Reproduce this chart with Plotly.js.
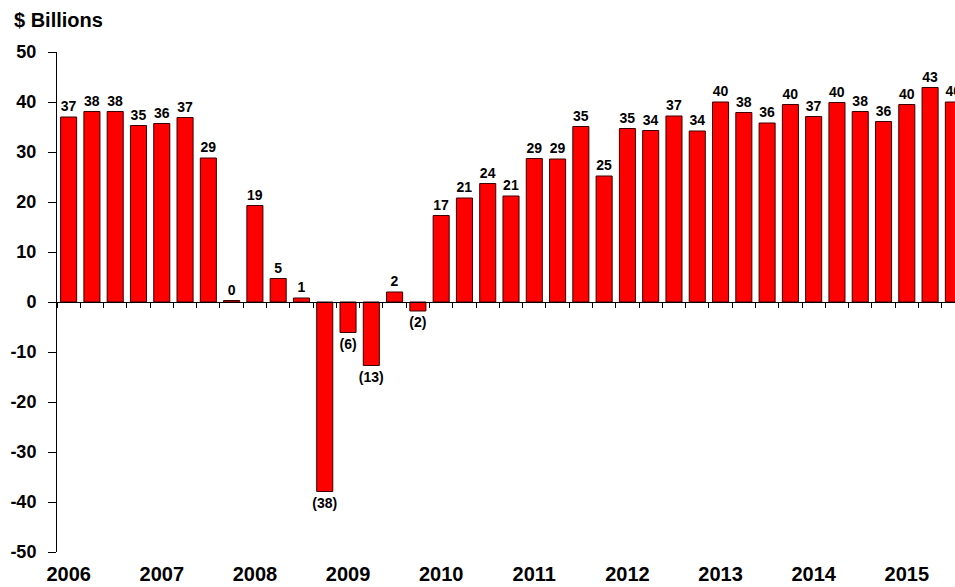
<!DOCTYPE html>
<html>
<head>
<meta charset="utf-8">
<script src="https://cdn.plot.ly/plotly-3.0.1.min.js"></script>
<style>html,body{margin:0;padding:0;background:#fff;}#chart{width:955px;height:587px;}</style>
</head>
<body>
<div id="chart"></div>
<script>
const quarters = [
  '2006Q1','2006Q2','2006Q3','2006Q4',
  '2007Q1','2007Q2','2007Q3','2007Q4',
  '2008Q1','2008Q2','2008Q3','2008Q4',
  '2009Q1','2009Q2','2009Q3','2009Q4',
  '2010Q1','2010Q2','2010Q3','2010Q4',
  '2011Q1','2011Q2','2011Q3','2011Q4',
  '2012Q1','2012Q2','2012Q3','2012Q4',
  '2013Q1','2013Q2','2013Q3','2013Q4',
  '2014Q1','2014Q2','2014Q3','2014Q4',
  '2015Q1','2015Q2','2015Q3'
];
const values = [
  37.0, 38.1, 38.1, 35.3,
  35.7, 36.9, 28.8, 0.3,
  19.3, 4.7, 0.8, -37.9,
  -6.1, -12.7, 2.0, -1.8,
  17.3, 20.8, 23.7, 21.2,
  28.7, 28.6, 35.1, 25.2,
  34.7, 34.3, 37.2, 34.2,
  40.0, 37.9, 35.8, 39.5,
  37.1, 39.9, 38.1, 36.1,
  39.5, 42.9, 40.0
];
const yearTickIdx = [0, 4, 8, 12, 16, 20, 24, 28, 32, 36];
const yearLabels = ['2006','2007','2008','2009','2010','2011','2012','2013','2014','2015'];
const yTickVals = [50, 40, 30, 20, 10, 0, -10, -20, -30, -40, -50];
const yTickText = ['50','40','30','20','10','0','-10','-20','-30','-40','-50'];

const xPos = quarters.map((q, i) => i);
const labels = values.map(v => v < 0 ? '(' + Math.abs(Math.round(v)) + ')' : String(Math.round(v)));

const font = 'Liberation Sans, Arial, sans-serif';

const traces = [
  {
    type: 'bar',
    x: xPos,
    y: values,
    text: labels,
    textposition: 'outside',
    cliponaxis: false,
    constraintext: 'none',
    textfont: {family: font, size: 14, color: '#000', weight: 'bold'},
    marker: {color: '#ff0000', line: {color: '#3a0000', width: 1}},
    hoverinfo: 'x+y',
    xaxis: 'x',
    yaxis: 'y'
  },
  {
    type: 'scatter',
    mode: 'markers',
    x: xPos,
    y: values,
    marker: {opacity: 0},
    hoverinfo: 'skip',
    showlegend: false,
    xaxis: 'x2',
    yaxis: 'y'
  }
];

const layout = {
  width: 955,
  height: 587,
  margin: {l: 57, r: 0, t: 52, b: 35},
  paper_bgcolor: '#fff',
  plot_bgcolor: '#fff',
  showlegend: false,
  bargap: 0.31,
  title: {
    text: '$ Billions',
    font: {family: font, size: 20, color: '#000', weight: 'bold'},
    xref: 'container', yref: 'container',
    x: 14 / 955, xanchor: 'left',
    y: 1 - 20 / 587, yanchor: 'middle'
  },
  xaxis: {
    range: [-0.5, 38.07],
    tickmode: 'array',
    tickvals: yearTickIdx,
    ticktext: yearLabels,
    ticks: '',
    showline: false,
    showgrid: false,
    zeroline: false,
    tickfont: {family: font, size: 20, color: '#000', weight: 'bold'},
    ticklabelstandoff: 8,
    anchor: 'y'
  },
  xaxis2: {
    overlaying: 'x',
    matches: 'x',
    anchor: 'free',
    position: 0.5,
    side: 'bottom',
    showline: true,
    linecolor: '#000',
    linewidth: 1,
    ticks: 'outside',
    ticklen: 5,
    tickcolor: '#000',
    tickwidth: 1,
    tickmode: 'linear',
    tick0: 0.5,
    dtick: 1,
    showticklabels: false,
    showgrid: false,
    zeroline: false
  },
  yaxis: {
    range: [-50, 50],
    tickmode: 'array',
    tickvals: yTickVals,
    ticktext: yTickText,
    ticks: 'outside',
    ticklen: 8,
    tickcolor: '#000',
    showline: true,
    linecolor: '#000',
    linewidth: 1,
    showgrid: false,
    zeroline: false,
    tickfont: {family: font, size: 18, color: '#000', weight: 'bold'},
    ticklabelstandoff: 8
  }
};

Plotly.newPlot('chart', traces, layout, {displayModeBar: false, staticPlot: true});
</script>
</body>
</html>
